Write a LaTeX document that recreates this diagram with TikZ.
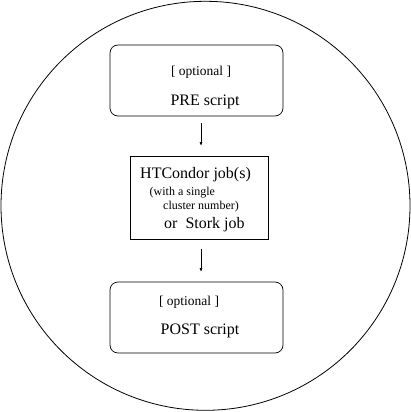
\documentclass[tikz,border=0pt]{standalone}
\usepackage{fontspec}
\setmainfont{Liberation Serif}
\usetikzlibrary{arrows.meta}
\tikzset{
  rbox/.style={draw, line width=0.7pt, rounded corners=8pt},
  jbox/.style={draw, line width=0.7pt},
  big/.style={font=\fontsize{16}{18}\selectfont, inner sep=0pt},
  small/.style={font=\fontsize{13.5}{15}\selectfont, inner sep=0pt},
  tiny/.style={font=\fontsize{12}{14}\selectfont, inner sep=0pt},
  flow/.style={line width=0.7pt, -{Latex[length=4pt,width=3pt]}},
}
\begin{document}
\begin{tikzpicture}[x=1pt,y=-1pt]
\useasboundingbox (0,0) rectangle (411,412);
\node[draw, circle, line width=0.8pt, minimum size=409pt, inner sep=0pt] (outer) at (205.5,205.8) {};
\node[rbox, minimum width=173pt, minimum height=71pt, inner sep=0pt] (pre) at (196.5,80.5) {};
\node[small] (preopt) at (201,72) {[ optional ]};
\node[big] (pretxt) at (205,102) {PRE script};
\node[jbox, minimum width=138pt, minimum height=83pt, inner sep=0pt] (job) at (199,197.5) {};
\node[big, anchor=west] (jobl1) at (140,175) {HTCondor job(s)};
\node[tiny, anchor=west] (jobl2) at (149.5,193) {(with a single};
\node[tiny, anchor=west] (jobl3) at (163,207) {cluster number)};
\node[big, anchor=west] (jobl4) at (164,225) {or\ \ Stork job};
\node[rbox, minimum width=173pt, minimum height=71pt, inner sep=0pt] (post) at (196.5,317.5) {};
\node[small] (postopt) at (189,302) {[ optional ]};
\node[big] (posttxt) at (200,331) {POST script};
\coordinate (a1s) at (201,123);
\coordinate (a1e) at (201,146);
\coordinate (a2s) at (201,249);
\coordinate (a2e) at (201,272);
\draw[flow] (a1s) -- (a1e);
\draw[flow] (a2s) -- (a2e);
\end{tikzpicture}
\end{document}
